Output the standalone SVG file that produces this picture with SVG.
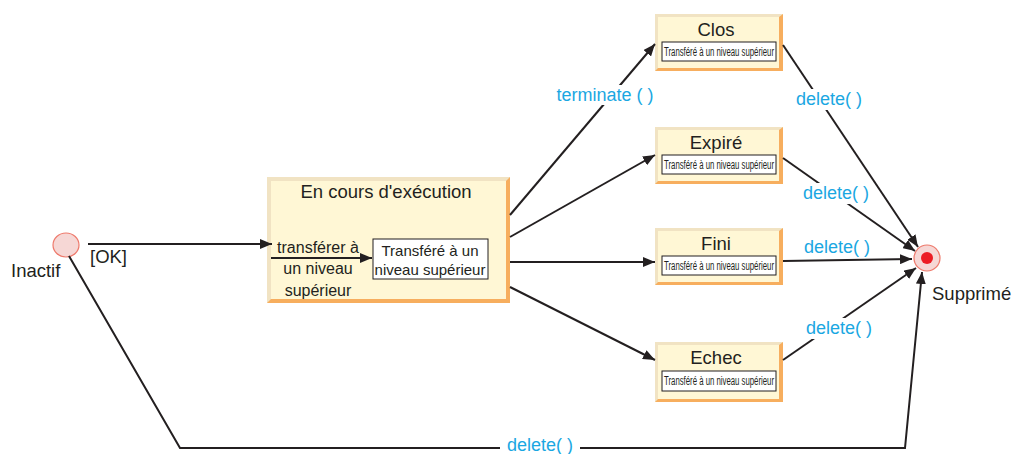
<svg xmlns="http://www.w3.org/2000/svg" width="1013" height="454" viewBox="0 0 1013 454">
  <defs>
    <marker id="arr" viewBox="0 0 12 10" refX="12" refY="5" markerWidth="12" markerHeight="10" markerUnits="userSpaceOnUse" orient="auto">
      <path d="M0,0 L12,5 L0,10 z" fill="#231f20"/>
    </marker>
    <style>
      .edge { fill: none; stroke: #231f20; stroke-width: 2; }
      .lbl { font-family: "Liberation Sans", Arial, sans-serif; font-size: 18px; fill: #1aa7e2; text-anchor: middle; }
      .lblbg { fill: #ffffff; }
      .title { font-family: "Liberation Sans", Arial, sans-serif; font-size: 18.5px; fill: #231f20; text-anchor: middle; }
      .txt { font-family: "Liberation Sans", Arial, sans-serif; font-size: 16px; fill: #231f20; text-anchor: middle; }
      .name { font-family: "Liberation Sans", Arial, sans-serif; font-size: 18.5px; fill: #231f20; }
      .small { font-family: "Liberation Sans", Arial, sans-serif; font-size: 12px; fill: #231f20; text-anchor: middle; }
      .edgeO { fill: #f7ae5e; }
      .edgeL { fill: #f1e3c3; }
      .face { fill: #fff7d5; }
      .inner { fill: #ffffff; stroke: #231f20; stroke-width: 1; }
    </style>
  </defs>

  <!-- initial state -->
  <g id="inactif">
    <ellipse cx="66" cy="245" rx="13" ry="12" fill="#f6d7d5" stroke="#ee7a6c" stroke-width="1.2"/>
    <text x="11" y="277" class="name">Inactif</text>
  </g>

  <!-- running state, with its inner transition -->
  <g id="en-cours">
    <rect class="edgeO" x="267" y="177" width="243" height="126"/>
    <polygon class="edgeL" points="267,177 510,177 506,181 271,181 271,299 267,303"/>
    <rect class="face" x="271" y="181" width="235" height="118"/>
    <text x="386" y="198" class="title">En cours d'exécution</text>
    <line class="edge" x1="271" y1="258" x2="372" y2="258" marker-end="url(#arr)"/>
    <text x="318" y="253" class="txt">transférer à</text>
    <text x="318" y="274" class="txt">un niveau</text>
    <text x="318" y="296" class="txt">supérieur</text>
    <rect class="inner" x="373" y="239" width="115" height="40"/>
    <text x="430" y="256" class="txt" style="font-size:15px">Transféré à un</text>
    <text x="430" y="275" class="txt" style="font-size:15px">niveau supérieur</text>
  </g>

  <!-- end states -->
  <g id="clos">
    <rect class="edgeO" x="655" y="14" width="128" height="57"/>
    <polygon class="edgeL" points="655,14 783,14 779,17 658,17 658,68 655,71"/>
    <rect class="face" x="658" y="17" width="121" height="51"/>
    <text x="716" y="36" class="title">Clos</text>
    <rect class="inner" x="662" y="42" width="114" height="19"/>
    <text x="719" y="56" class="small" textLength="110" lengthAdjust="spacingAndGlyphs">Transféré à un niveau supérieur</text>
  </g>

  <g id="expire">
    <rect class="edgeO" x="655" y="127" width="128" height="57"/>
    <polygon class="edgeL" points="655,127 783,127 779,130 658,130 658,181 655,184"/>
    <rect class="face" x="658" y="130" width="121" height="51"/>
    <text x="716" y="149" class="title">Expiré</text>
    <rect class="inner" x="662" y="155" width="114" height="19"/>
    <text x="719" y="169" class="small" textLength="110" lengthAdjust="spacingAndGlyphs">Transféré à un niveau supérieur</text>
  </g>

  <g id="fini">
    <rect class="edgeO" x="655" y="228" width="128" height="57"/>
    <polygon class="edgeL" points="655,228 783,228 779,231 658,231 658,282 655,285"/>
    <rect class="face" x="658" y="231" width="121" height="51"/>
    <text x="716" y="250" class="title">Fini</text>
    <rect class="inner" x="662" y="256" width="114" height="19"/>
    <text x="719" y="270" class="small" textLength="110" lengthAdjust="spacingAndGlyphs">Transféré à un niveau supérieur</text>
  </g>

  <g id="echec">
    <rect class="edgeO" x="655" y="342" width="128" height="60"/>
    <polygon class="edgeL" points="655,342 783,342 779,345 658,345 658,399 655,402"/>
    <rect class="face" x="658" y="345" width="121" height="54"/>
    <text x="716" y="364" class="title">Echec</text>
    <rect class="inner" x="662" y="371" width="114" height="20"/>
    <text x="719" y="385" class="small" textLength="110" lengthAdjust="spacingAndGlyphs">Transféré à un niveau supérieur</text>
  </g>

  <g id="supprime">
    <circle cx="927" cy="258" r="13" fill="#f6d7d5" stroke="#ee7a6c" stroke-width="1.2"/>
    <circle cx="927" cy="258" r="6" fill="#ec1c24"/>
    <text x="932" y="300" class="name">Supprimé</text>
  </g>

  <!-- transitions between states -->
  <g id="connectors">
    <line class="edge" x1="88" y1="244" x2="272" y2="244" marker-end="url(#arr)"/>
    <line class="edge" x1="510" y1="215" x2="655" y2="44" marker-end="url(#arr)"/>
    <line class="edge" x1="510" y1="237" x2="655" y2="155" marker-end="url(#arr)"/>
    <line class="edge" x1="510" y1="262" x2="655" y2="262" marker-end="url(#arr)"/>
    <line class="edge" x1="510" y1="287" x2="655" y2="360" marker-end="url(#arr)"/>
    <line class="edge" x1="783" y1="45" x2="918" y2="247" marker-end="url(#arr)"/>
    <line class="edge" x1="783" y1="158" x2="915" y2="251" marker-end="url(#arr)"/>
    <line class="edge" x1="783" y1="261" x2="912" y2="259" marker-end="url(#arr)"/>
    <line class="edge" x1="783" y1="360" x2="916" y2="268" marker-end="url(#arr)"/>
    <polyline class="edge" points="69,256 180,448 905,448 922,272" marker-end="url(#arr)"/>

    <text x="90" y="263" class="name">[OK]</text>

    <rect class="lblbg" x="552" y="85" width="106" height="20"/>
    <text x="605" y="101" class="lbl">terminate ( )</text>

    <rect class="lblbg" x="793" y="89" width="72" height="21"/>
    <text x="829" y="105" class="lbl">delete( )</text>
    <rect class="lblbg" x="800" y="183" width="72" height="21"/>
    <text x="836" y="199" class="lbl">delete( )</text>
    <rect class="lblbg" x="801" y="237" width="72" height="21"/>
    <text x="837" y="253" class="lbl">delete( )</text>
    <rect class="lblbg" x="803" y="318" width="72" height="21"/>
    <text x="839" y="334" class="lbl">delete( )</text>
    <rect class="lblbg" x="500" y="438" width="80" height="16"/>
    <text x="540" y="451" class="lbl">delete( )</text>
  </g>
</svg>
